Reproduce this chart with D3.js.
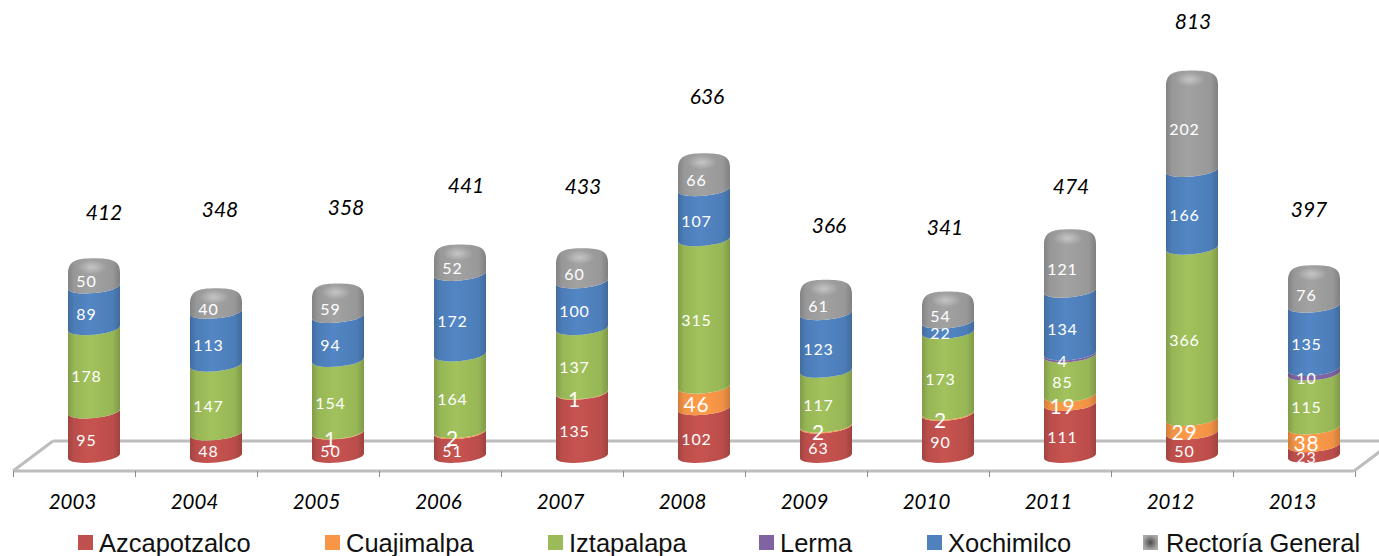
<!DOCTYPE html>
<html>
<head>
<meta charset="utf-8">
<script src="https://cdn.jsdelivr.net/npm/d3@7"></script>
<style>
html, body { margin: 0; padding: 0; background: #fff; overflow: hidden; }
svg { display: block; }
</style>
</head>
<body>
<script>
var years = ["2003", "2004", "2005", "2006", "2007", "2008", "2009", "2010", "2011", "2012", "2013"];
var seriesNames = ["Azcapotzalco", "Cuajimalpa", "Iztapalapa", "Lerma", "Xochimilco", "Rectoría General"];

var azcapotzalco = [95, 48, 50, 51, 135, 102, 63, 90, 111, 50, 23];
var cuajimalpa = [0, 0, 1, 2, 1, 46, 2, 2, 19, 29, 38];
var iztapalapa = [178, 147, 154, 164, 137, 315, 117, 173, 85, 366, 115];
var lerma = [0, 0, 0, 0, 0, 0, 0, 0, 4, 0, 10];
var xochimilco = [89, 113, 94, 172, 100, 107, 123, 22, 134, 166, 135];
var rectoria = [50, 40, 59, 52, 60, 66, 61, 54, 121, 202, 76];
var totals = [412, 348, 358, 441, 433, 636, 366, 341, 474, 813, 397];

var seriesColors = ["#C0504D", "#F79646", "#9BBB59", "#8064A2", "#4F81BD", "#9C9C9C"];

// the totals float above the bars at hand placed heights in the original
var totalLift = [51, 83, 81, 64, 67, 62, 59, 69, 48, 54, 61];
var totalNudge = [10, 4, 8, 6, 1, 3, 3, -3, 1, 1, -5];

var legendX = [78, 325, 548, 759, 927, 1143];

var width = 1379, height = 556;
var barShift = 20, rx = 26, ry = 6.5, tilt = 2.5;

var svg = d3.select("body").append("svg")
    .attr("width", width)
    .attr("height", height)
    .attr("viewBox", "0 0 " + width + " " + height);

var rows = years.map(function(year, i) {
    return {
        year: year,
        0: azcapotzalco[i], 1: cuajimalpa[i], 2: iztapalapa[i],
        3: lerma[i], 4: xochimilco[i], 5: rectoria[i]
    };
});

var stacked = d3.stack().keys(d3.range(6))(rows);

var x = d3.scaleBand().domain(years).range([13, 1355]);
var edges = d3.scaleLinear().domain([0, years.length]).range([13, 1355]);
var y = d3.scaleLinear().domain([0, 813]).range([456, 75.5]);

// horizontal shading makes the bars look round
var defs = svg.append("defs");
seriesColors.forEach(function(c, i) {
    var g = defs.append("linearGradient").attr("id", "cyl" + i);
    var col = d3.rgb(c);
    g.append("stop").attr("offset", "0%").attr("stop-color", col.darker(0.5));
    g.append("stop").attr("offset", "12%").attr("stop-color", col.darker(0.08));
    g.append("stop").attr("offset", "42%").attr("stop-color", col.brighter(0.1));
    g.append("stop").attr("offset", "86%").attr("stop-color", col.darker(0.08));
    g.append("stop").attr("offset", "100%").attr("stop-color", col.darker(0.55));
});
var shine = defs.append("radialGradient").attr("id", "shine");
shine.append("stop").attr("offset", "0%").attr("stop-color", "#fff").attr("stop-opacity", 0.38);
shine.append("stop").attr("offset", "100%").attr("stop-color", "#fff").attr("stop-opacity", 0);
var grayKey = defs.append("radialGradient").attr("id", "grayKey");
grayKey.append("stop").attr("offset", "0%").attr("stop-color", "#4A4A4A");
grayKey.append("stop").attr("offset", "100%").attr("stop-color", "#A8A8A8");
defs.append("filter").attr("id", "soft")
    .append("feGaussianBlur").attr("stdDeviation", 0.6);

// floor of the 3d plot
var floorLine = d3.line();
svg.append("path")
    .attr("d", floorLine([[53, 441], [1379, 441]]) + floorLine([[13, 471], [1354, 471]]) +
        floorLine([[13, 471], [53, 441]]) + floorLine([[1354, 471], [1382, 450]]))
    .attr("fill", "none")
    .attr("stroke", "#BDBDBD")
    .attr("stroke-width", 3);

var tickAxis = d3.axisBottom(edges)
    .tickValues(d3.range(years.length + 1))
    .tickSize(6)
    .tickFormat("");
var ticks = svg.append("g").attr("transform", "translate(0,471)").call(tickAxis);
ticks.select(".domain").remove();
ticks.selectAll("line").attr("stroke", "#8C8C8C").attr("stroke-width", 1);

var labelAxis = d3.axisBottom(x).tickSize(0).tickPadding(0);
var labels = svg.append("g").attr("transform", "translate(-1.5,494)").call(labelAxis);
labels.select(".domain").remove();
labels.selectAll("text")
    .attr("font-family", "Lato")
    .attr("font-style", "italic")
    .attr("font-size", 20.5)
    .attr("fill", "#000");

function barX(d) { return x(d.data.year) + x.bandwidth() / 2 + barShift; }

function segmentPath(d, isTop) {
    var cx = barX(d), l = cx - rx, r = cx + rx;
    var y0 = y(d[0]), y1 = y(d[1]);
    var rot = -5.5;
    var bottom = "L" + r + "," + (y0 - tilt) + "A" + rx + "," + ry + " " + rot + " 0 1 " + l + "," + (y0 + tilt) + "Z";
    if (isTop) {
        return "M" + l + "," + (y1 + 11) +
            "C" + l + "," + (y1 - 2) + " " + (cx - 19) + "," + (y1 - 5) + " " + cx + "," + (y1 - 5) +
            "C" + (cx + 19) + "," + (y1 - 5) + " " + r + "," + (y1 - 2) + " " + r + "," + (y1 + 9) + bottom;
    }
    return "M" + l + "," + (y1 + tilt) + "A" + rx + "," + ry + " " + rot + " 0 0 " + r + "," + (y1 - tilt) + bottom;
}

var layers = svg.selectAll("g.layer")
    .data(stacked)
    .enter().append("g")
    .attr("class", "layer")
    .attr("filter", "url(#soft)");

layers.selectAll("path")
    .data(function(s) {
        return s.filter(function(d) { return d[1] > d[0]; });
    })
    .enter().append("path")
    .attr("d", function(d) { return segmentPath(d, d3.select(this.parentNode).datum().key === 5); })
    .attr("fill", function() { return "url(#cyl" + d3.select(this.parentNode).datum().key + ")"; });

// highlight on top of each cap
svg.selectAll("ellipse.shine")
    .data(stacked[5])
    .enter().append("ellipse")
    .attr("class", "shine")
    .attr("cx", function(d) { return barX(d) - 2; })
    .attr("cy", function(d) { return y(d[1]) + 4; })
    .attr("rx", 15)
    .attr("ry", 7)
    .attr("fill", "url(#shine)");

// value labels, Cuajimalpa is set larger in the original
stacked.forEach(function(s) {
    svg.selectAll("text.v" + s.key)
        .data(s.filter(function(d) { return d[1] > d[0]; }))
        .enter().append("text")
        .attr("class", "v" + s.key)
        .attr("x", function(d) { return barX(d) - 7.5; })
        .attr("y", function(d) { return y((d[0] + d[1]) / 2) + 7; })
        .attr("dy", "0.35em")
        .attr("text-anchor", "middle")
        .attr("font-family", "Lato")
        .attr("font-size", s.key === 1 ? 21 : 16)
        .attr("letter-spacing", 0.9)
        .attr("fill", "#fff")
        .text(function(d) { return d[1] - d[0]; });
});

// totals
svg.selectAll("text.total")
    .data(totals)
    .enter().append("text")
    .attr("class", "total")
    .attr("x", function(d, i) { return x(years[i]) + x.bandwidth() / 2 + barShift + totalNudge[i]; })
    .attr("y", function(d, i) { return y(d) - totalLift[i]; })
    .attr("dy", "0.35em")
    .attr("text-anchor", "middle")
    .attr("font-family", "Lato")
    .attr("font-style", "italic")
    .attr("font-size", 21)
    .attr("fill", "#000")
    .text(function(d) { return d; });

// legend
var legend = svg.selectAll("g.legend")
    .data(seriesNames)
    .enter().append("g")
    .attr("class", "legend")
    .attr("transform", function(d, i) { return "translate(" + legendX[i] + ",535)"; });

legend.append("rect")
    .attr("width", 15)
    .attr("height", 15)
    .attr("fill", function(d, i) { return i === 5 ? "url(#grayKey)" : seriesColors[i]; });

legend.append("text")
    .attr("x", function(d, i) { return i === 5 ? 23 : 21; })
    .attr("y", 17)
    .attr("font-family", "Liberation Sans")
    .attr("font-size", 25.5)
    .attr("fill", "#111")
    .text(function(d) { return d; });
</script>
</body>
</html>
